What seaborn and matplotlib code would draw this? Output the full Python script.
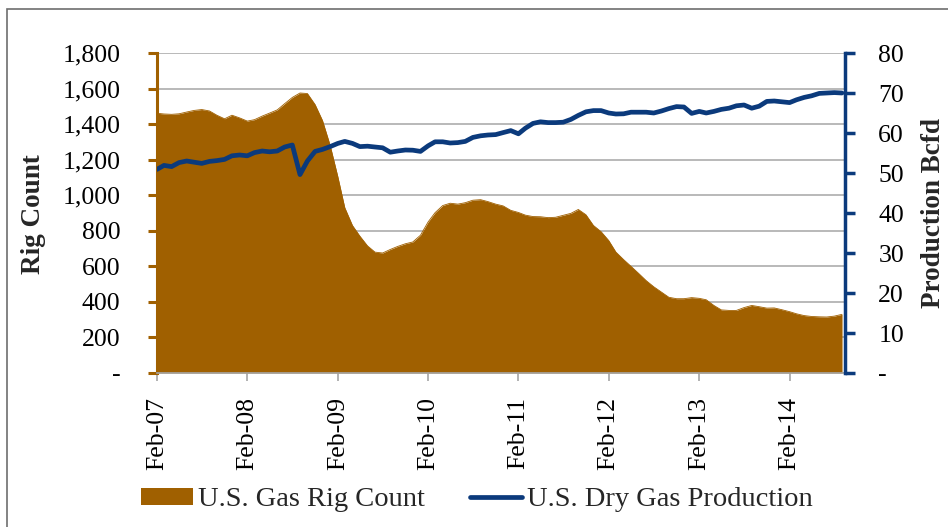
import pandas as pd
import matplotlib
matplotlib.use('Agg')
import matplotlib.pyplot as plt
from matplotlib.ticker import FuncFormatter
from matplotlib.patches import Rectangle
from matplotlib.lines import Line2D
import seaborn as sns

sns.set_theme(style='white')
plt.rcParams['font.family'] = ['Liberation Serif', 'DejaVu Serif']

BROWN = '#A06000'
NAVY = '#0B3A7C'
GRID = '#A6A6A6'

# monthly data, Feb-07 .. Sep-14
months = pd.date_range('2007-02-01', periods=92, freq='MS')

rig_count = [1461, 1457, 1455, 1458, 1468, 1477, 1482, 1474, 1450, 1430,
             1450, 1435, 1417, 1425, 1445, 1462, 1480, 1515, 1550, 1575,
             1572, 1510, 1420, 1280, 1104, 930, 830, 770, 715, 680,
             675, 695, 712, 727, 737, 775, 850, 902, 942, 955,
             950, 958, 972, 975, 964, 950, 940, 915, 903, 888,
             880, 879, 874, 876, 887, 898, 920, 890, 830, 795,
             745, 680, 638, 600, 560, 520, 485, 455, 426, 418,
             418, 424, 420, 412, 380, 355, 352, 352, 368, 380,
             373, 365, 366, 356, 345, 333, 323, 318, 316, 315,
             320, 330]

dry_gas = [50.9, 51.9, 51.6, 52.6, 53.0, 52.7, 52.4, 52.9, 53.1, 53.4,
           54.3, 54.5, 54.3, 55.1, 55.5, 55.3, 55.5, 56.5, 57.0, 49.6,
           53.0, 55.4, 55.9, 56.6, 57.4, 57.9, 57.4, 56.6, 56.7, 56.5,
           56.3, 55.2, 55.5, 55.75, 55.7, 55.4, 56.8, 57.8, 57.8, 57.5,
           57.6, 57.9, 58.9, 59.3, 59.5, 59.6, 60.1, 60.6, 59.8, 61.2,
           62.4, 62.8, 62.6, 62.6, 62.7, 63.4, 64.4, 65.3, 65.6, 65.6,
           65.0, 64.75, 64.8, 65.2, 65.2, 65.2, 65.0, 65.5, 66.1, 66.6,
           66.5, 64.9, 65.4, 65.0, 65.4, 65.9, 66.2, 66.8, 67.0, 66.2,
           66.7, 67.9, 68.0, 67.8, 67.6, 68.3, 68.9, 69.3, 69.9, 70.0,
           70.1, 70.0]

tick_years = [2007, 2008, 2009, 2010, 2011, 2012, 2013, 2014]
tick_labels = ['Feb-07', 'Feb-08', 'Feb-09', 'Feb-10', 'Feb-11', 'Feb-12', 'Feb-13', 'Feb-14']
rig_ticks = [0, 200, 400, 600, 800, 1000, 1200, 1400, 1600, 1800]
prod_ticks = [0, 10, 20, 30, 40, 50, 60, 70, 80]

df = pd.DataFrame({'month': months, 'rigs': rig_count, 'prod': dry_gas})

W, H = 948, 527
fig = plt.figure(figsize=(W / 100, H / 100), dpi=100)
ax = fig.add_axes([157 / W, 1 - 373 / H, (845 - 157) / W, (373 - 53) / H])
ax2 = ax.twinx()

# rig count area
ax.fill_between(df['month'], df['rigs'], 0, color=BROWN, linewidth=0, zorder=2)
sns.lineplot(data=df, x='month', y='rigs', ax=ax, color=BROWN, linewidth=0.6, zorder=3)

# production line
sns.lineplot(data=df, x='month', y='prod', ax=ax2, color=NAVY, linewidth=3.4)
for ln in ax2.lines:
    ln.set_solid_joinstyle('round')
    ln.set_solid_capstyle('round')

ax.set_ylim(0, 1800)
ax.set_yticks(rig_ticks)
ax.yaxis.set_major_formatter(FuncFormatter(lambda v, p: '-' if v == 0 else f'{int(v):,}'))
ax2.set_ylim(0, 80)
ax2.set_yticks(prod_ticks)
ax2.yaxis.set_major_formatter(FuncFormatter(lambda v, p: '-' if v == 0 else f'{int(v)}'))

ax.set_xticks([pd.Timestamp(f'{y}-02-01') for y in tick_years])
ax.set_xticklabels(tick_labels)
ax.set_xlim(months[0], months[-1] + pd.Timedelta(days=12))

ax.set_xlabel('')
ax.set_ylabel('')
ax2.set_xlabel('')
ax2.set_ylabel('')

ax.grid(axis='y', color=GRID, linewidth=1.1)
ax.grid(axis='x', visible=False)
ax2.grid(False)
ax.set_axisbelow(True)

for s in ['top', 'right']:
    ax.spines[s].set_visible(False)
ax.spines['left'].set_color(BROWN)
ax.spines['left'].set_linewidth(2.2)
ax.spines['bottom'].set_color(GRID)
ax.spines['bottom'].set_linewidth(1.2)
for s in ['top', 'left', 'bottom']:
    ax2.spines[s].set_visible(False)
ax2.spines['right'].set_color(NAVY)
ax2.spines['right'].set_linewidth(2.5)

ax.tick_params(axis='y', direction='out', length=6.5, width=2.2, color=BROWN,
               pad=20, labelsize=18.5, labelcolor='black', left=True)
ax.tick_params(axis='x', direction='out', length=5.5, width=1.2, color=GRID,
               pad=12, labelsize=18.5, labelcolor='black', bottom=True, labelrotation=90)
ax2.tick_params(axis='y', direction='out', length=7, width=2.5, color=NAVY,
                pad=17, labelsize=18.5, labelcolor='black', right=True)

fig.text(33 / W, 1 - 214 / H, 'Rig Count', rotation=90, ha='center', va='center',
         fontsize=19.5, fontweight='bold')
fig.text(921 / W, 1 - 213 / H, 'Production Bcfd', rotation=90, ha='left', va='center',
         fontsize=19.5, fontweight='bold')

handles = [Rectangle((0, 0), 1, 1, facecolor=BROWN, edgecolor='none'),
           Line2D([], [], color=NAVY, linewidth=3.4, solid_capstyle='round')]
fig.legend(handles, ['U.S. Gas Rig Count', 'U.S. Dry Gas Production'],
           loc='center', bbox_to_anchor=(477 / W, 1 - 500 / H), ncol=2, frameon=False,
           fontsize=20.5, handlelength=1.83, handleheight=0.53, handletextpad=0.18,
           columnspacing=1.58)

# chart border (cropped on right and bottom)
fig.add_artist(Rectangle((7 / W, -0.1), 1.2, (1 - 9 / H) + 0.1, transform=fig.transFigure,
                         fill=False, edgecolor='#6E6E6E', linewidth=1.2))

fig.savefig('out.png', dpi=100)
